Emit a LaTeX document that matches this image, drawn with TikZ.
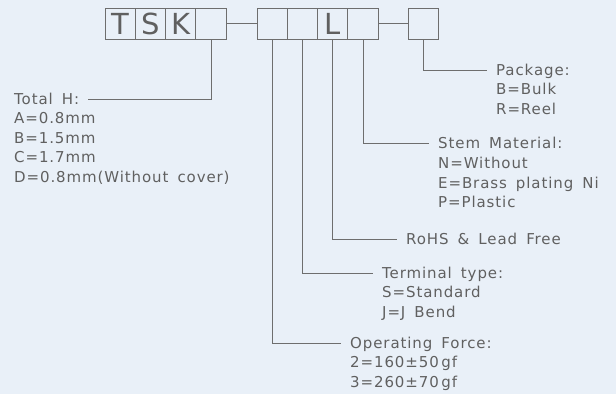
\documentclass[tikz,border=0pt]{standalone}
\usepackage{fontspec}
\usetikzlibrary{positioning,calc}
\newfontfamily\cadfont{DejaVu Sans}[LetterSpace=6,WordSpace=1.6]
\newfontfamily\cellfont{DejaVu Sans}
\definecolor{bgblue}{HTML}{E9F0F8}
\definecolor{linegray}{HTML}{6E6E6E}
\definecolor{textgray}{HTML}{606060}

\begin{document}
\begin{tikzpicture}[
  x=1pt, y=1pt,
  cell/.style={rectangle, draw=linegray, line width=0.9pt, minimum width=30.3pt, minimum height=31pt, inner sep=0pt, outer sep=0pt, text=textgray, font=\cellfont\fontsize{29}{29}\selectfont},
  head/.style={anchor=west, inner xsep=9pt, inner ysep=0pt, text height=11pt, text depth=0pt, text=textgray, font=\cadfont\fontsize{15}{19.5}\selectfont},
  vals/.style={anchor=north west, align=left, inner xsep=9pt, inner ysep=0pt, text=textgray, font=\cadfont\fontsize{15}{19.5}\selectfont},
  lead/.style={draw=linegray, line width=0.9pt}
]
  \fill[bgblue] (0,0) rectangle (616,-394);
  \useasboundingbox (0,0) rectangle (616,-394);

  % part number boxes
  \node[cell] (t1) at (120.15,-23.5) {T};
  \node[cell, right=0pt of t1] (t2) {S};
  \node[cell, right=0pt of t2] (t3) {K};
  \node[cell, right=0pt of t3] (t4) {};
  \node[cell] (g1) at (272.15,-23.5) {};
  \node[cell, right=0pt of g1] (g2) {};
  \node[cell, right=0pt of g2] (g3) {L};
  \node[cell, right=0pt of g3] (g4) {};
  \node[cell] (p1) at (423.65,-23.5) {};
  \draw[lead] (t4) -- (g1);
  \draw[lead] (g4) -- (p1);

  % labels
  \node[head] (totalh) at (5,-99) {Total H:};
  \node[vals] (totalv) at ([yshift=-7.5pt]totalh.south west) {A=0.8mm\\B=1.5mm\\C=1.7mm\\D=0.8mm(Without cover)};
  \node[head] (pkg) at (487,-70) {Package:};
  \node[vals] (pkgv) at ([yshift=-7.5pt]pkg.south west) {B=Bulk\\R=Reel};
  \node[head] (stem) at (429,-143) {Stem Material:};
  \node[vals] (stemv) at ([yshift=-8.5pt]stem.south west) {N=Without\\E=Brass plating Ni\\P=Plastic};
  \node[head] (rohs) at (397,-239) {RoHS \& Lead Free};
  \node[head] (term) at (373,-273) {Terminal type:};
  \node[vals] (termv) at ([yshift=-7.5pt]term.south west) {S=Standard\\J=J Bend};
  \node[head] (force) at (341,-343) {Operating Force:};
  \node[vals] (forcev) at ([yshift=-7.5pt]force.south west) {2=160±50\,gf\\3=260±70\,gf};

  % leaders
  \draw[lead] (t4.south) |- (totalh.east);
  \draw[lead] (p1.south) |- (pkg.west);
  \draw[lead] (g4.south) |- (stem.west);
  \draw[lead] (g3.south) |- (rohs.west);
  \draw[lead] (g2.south) |- (term.west);
  \draw[lead] (g1.south) |- (force.west);
\end{tikzpicture}
\end{document}
